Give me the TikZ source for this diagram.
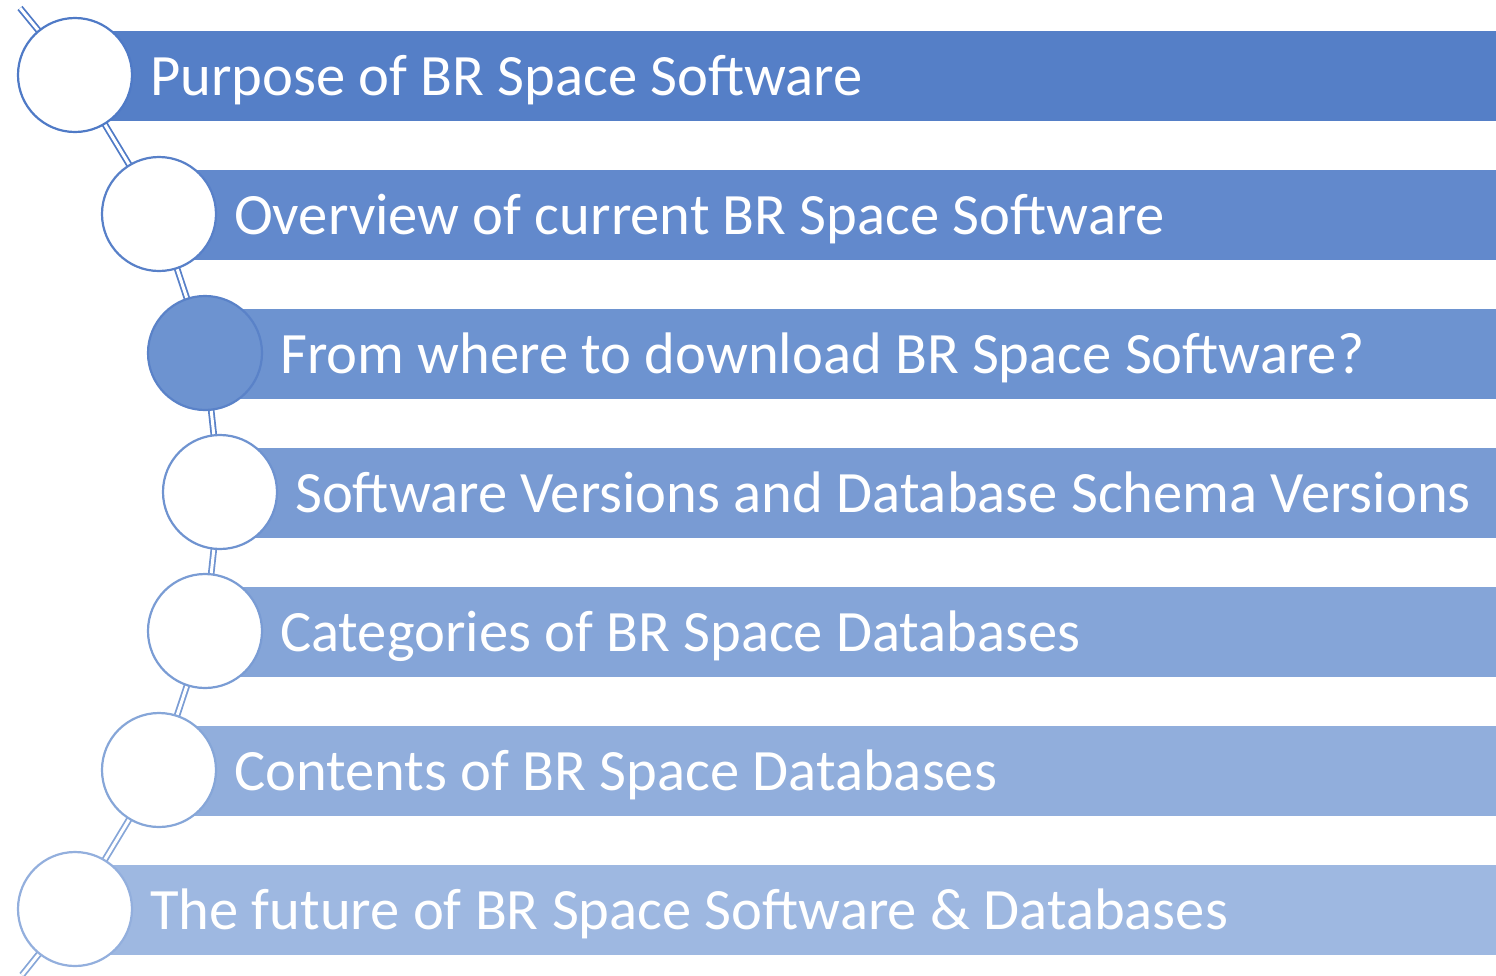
\documentclass[tikz,border=0pt]{standalone}
\usepackage{fontspec}
\setmainfont{Carlito}
\begin{document}
\begin{tikzpicture}[x=1pt,y=-1pt,
  bar/.style={draw=none,rectangle,minimum height=90pt,minimum width=1421pt,anchor=west,inner sep=0pt},
  lbl/.style={anchor=base west,inner sep=0pt,text=white,font=\fontsize{58.6}{66}\selectfont},
  ring/.style={circle,minimum size=114pt,inner sep=0pt,line width=2.2pt,fill=white},
  conn/.style={line width=1.8pt,double=white,double distance=3pt}]
\definecolor{c1}{HTML}{557FC7}
\definecolor{c2}{HTML}{6289CC}
\definecolor{c3}{HTML}{6D93D0}
\definecolor{c4}{HTML}{799BD3}
\definecolor{c5}{HTML}{85A5D8}
\definecolor{c6}{HTML}{91AEDC}
\definecolor{c7}{HTML}{9EB8E1}
\definecolor{o1}{HTML}{4F7AC6}
\definecolor{o2}{HTML}{5880C8}
\definecolor{o3}{HTML}{5A82C8}
\definecolor{o4}{HTML}{6F93D0}
\definecolor{o5}{HTML}{7A9CD4}
\definecolor{o6}{HTML}{86A6D8}
\definecolor{o7}{HTML}{93AFDD}
\useasboundingbox (0,0) rectangle (1496,975);
% bars
\node[bar,fill=c1] (b1) at (75,76) {};
\node[bar,fill=c2] (b2) at (159,215) {};
\node[bar,fill=c3] (b3) at (205,354) {};
\node[bar,fill=c4] (b4) at (220,493) {};
\node[bar,fill=c5] (b5) at (205,632) {};
\node[bar,fill=c6] (b6) at (159,771) {};
\node[bar,fill=c7] (b7) at (75,910) {};
% connector
\coordinate (top) at (20,8);
\coordinate (bot) at (22,975);
\coordinate (p1) at (75,75);
\coordinate (p2) at (159,214);
\coordinate (p3) at (205,353);
\coordinate (p4) at (220,492);
\coordinate (p5) at (205,631);
\coordinate (p6) at (159,770);
\coordinate (p7) at (75,909);
\draw[conn,draw=o1] (top) -- (p1) -- (p2);
\draw[conn,draw=o2] (p2) -- (p3);
\draw[conn,draw=o3] (p3) -- (p4);
\draw[conn,draw=o4] (p4) -- (p5);
\draw[conn,draw=o5] (p5) -- (p6);
\draw[conn,draw=o6] (p6) -- (p7);
\draw[conn,draw=o6] (p7) -- (bot);
% circles
\node[ring,draw=o1] (r1) at (p1) {};
\node[ring,draw=o2] (r2) at (p2) {};
\node[ring,draw=o3,fill=c3] (r3) at (p3) {};
\node[ring,draw=o4] (r4) at (p4) {};
\node[ring,draw=o5] (r5) at (p5) {};
\node[ring,draw=o6] (r6) at (p6) {};
\node[ring,draw=o7] (r7) at (p7) {};
% labels
\node[lbl] (t1) at (150,95) {Purpose of BR Space Software};
\node[lbl] (t2) at (234,234) {Overview of current BR Space Software};
\node[lbl] (t3) at (280,373) {From where to download BR Space Software?};
\node[lbl] (t4) at (295,512) {Software Versions and Database Schema Versions};
\node[lbl] (t5) at (280,651) {Categories of BR Space Databases};
\node[lbl] (t6) at (234,790) {Contents of BR Space Databases};
\node[lbl] (t7) at (150,929) {The future of BR Space Software \& Databases};
\end{tikzpicture}
\end{document}
